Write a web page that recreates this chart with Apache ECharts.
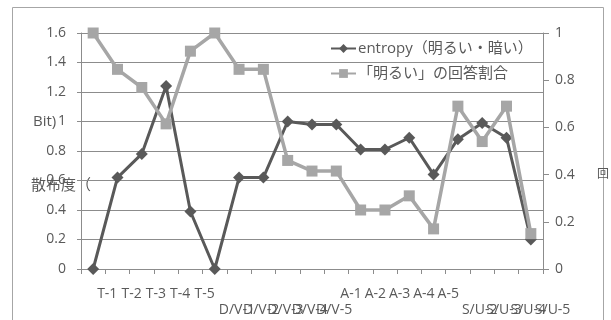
<!DOCTYPE html>
<html>
<head>
<meta charset="utf-8">
<script src="https://cdn.jsdelivr.net/npm/echarts@6/dist/echarts.min.js"></script>
<style>
  html, body { margin: 0; padding: 0; background: #ffffff; }
  #chart { width: 611px; height: 320px; }
</style>
</head>
<body>
<div id="chart"></div>
<script>
// Stimulus categories (T, D/V, A, S/U groups)
const categories = [
  'T-1', 'T-2', 'T-3', 'T-4', 'T-5',
  'D/V-1', 'D/V-2', 'D/V-3', 'D/V-4', 'D/V-5',
  'A-1', 'A-2', 'A-3', 'A-4', 'A-5',
  'S/U-2', 'S/U-3', 'S/U-4', 'S/U-5'
];

// Dispersion (entropy, bit) of the bright/dark answers — left axis
const entropyValues = [
  0, 0.62, 0.78, 1.24, 0.39,
  0, 0.62, 0.62, 1.0, 0.98,
  0.98, 0.81, 0.81, 0.89, 0.64,
  0.88, 0.99, 0.89, 0.2
];

// Share of "明るい" answers — right axis
const brightRatio = [
  1.0, 0.846, 0.769, 0.615, 0.923,
  1.0, 0.846, 0.846, 0.46, 0.415,
  0.415, 0.25, 0.25, 0.31, 0.17,
  0.69, 0.54, 0.69, 0.15
];

const leftTicks = { min: 0, max: 1.6, interval: 0.2 };
const rightTicks = { min: 0, max: 1, interval: 0.2 };

const seriesNames = ['entropy（明るい・暗い）', '「明るい」の回答割合'];

const FONT = "'Open Sans', 'Noto Sans CJK JP', sans-serif";
const TEXT = '#595959';
const GRID = '#8c8c8c';

// Labels of the D/V and S/U groups sit on a second row
const secondRow = name => name.startsWith('D/V') || name.startsWith('S/U');

const chart = echarts.init(document.getElementById('chart'), null, { renderer: 'canvas' });

chart.setOption({
  animation: false,
  backgroundColor: '#ffffff',
  textStyle: { fontFamily: FONT },
  grid: { left: 81, right: 68, top: 33, bottom: 51, containLabel: false },
  legend: {
    orient: 'vertical',
    left: 330,
    top: 41,
    itemWidth: 25,
    itemHeight: 11,
    itemGap: 10,
    padding: 0,
    textStyle: { fontFamily: FONT, fontSize: 15, color: TEXT, padding: [0, 0, 0, -3] },
    data: seriesNames
  },
  xAxis: {
    type: 'category',
    data: categories,
    boundaryGap: true,
    axisLine: { show: true, lineStyle: { color: GRID, width: 1 } },
    axisTick: { show: true, length: 5, interval: 0, lineStyle: { color: GRID } },
    axisLabel: {
      interval: 0,
      align: 'left',
      margin: 17,
      padding: [0, 0, 0, 4],
      fontFamily: FONT,
      fontSize: 14,
      lineHeight: 16,
      color: TEXT,
      formatter: v => (secondRow(v) ? '\n' + v : v)
    },
    splitLine: { show: false }
  },
  yAxis: [
    {
      type: 'value',
      min: leftTicks.min,
      max: leftTicks.max,
      interval: leftTicks.interval,
      axisLine: { show: true, lineStyle: { color: GRID } },
      axisTick: { show: true, length: 4, lineStyle: { color: GRID } },
      axisLabel: { margin: 15, fontFamily: FONT, fontSize: 14, color: TEXT },
      splitLine: { show: true, lineStyle: { color: GRID, width: 1 } }
    },
    {
      type: 'value',
      min: rightTicks.min,
      max: rightTicks.max,
      interval: rightTicks.interval,
      position: 'right',
      axisLine: { show: true, lineStyle: { color: GRID } },
      axisTick: { show: true, length: 6, lineStyle: { color: GRID } },
      axisLabel: { margin: 12, fontFamily: FONT, fontSize: 14, color: TEXT },
      splitLine: { show: false }
    }
  ],
  series: [
    {
      name: seriesNames[0],
      type: 'line',
      yAxisIndex: 0,
      data: entropyValues,
      symbol: 'diamond',
      symbolSize: 12,
      z: 2,
      itemStyle: { color: '#595959' },
      lineStyle: { color: '#595959', width: 3 }
    },
    {
      name: seriesNames[1],
      type: 'line',
      yAxisIndex: 1,
      data: brightRatio,
      symbol: 'rect',
      symbolSize: 11,
      z: 3,
      itemStyle: { color: '#a6a6a6' },
      lineStyle: { color: '#a6a6a6', width: 3.5 }
    }
  ],
  graphic: [
    {
      type: 'rect',
      shape: { x: 12.5, y: 7.5, width: 591, height: 340 },
      style: { fill: 'none', stroke: '#a6a6a6', lineWidth: 1 },
      silent: true
    },
    {
      type: 'text',
      left: 33,
      top: 114,
      style: { text: 'Bit)', font: '15px ' + FONT, fill: TEXT }
    },
    {
      type: 'text',
      left: 31,
      top: 178,
      style: { text: '散布度（', font: '15px ' + FONT, fill: TEXT }
    },
    {
      type: 'text',
      left: 597,
      top: 169,
      style: { text: '回', font: '12px ' + FONT, fill: TEXT }
    }
  ]
});
</script>
</body>
</html>
